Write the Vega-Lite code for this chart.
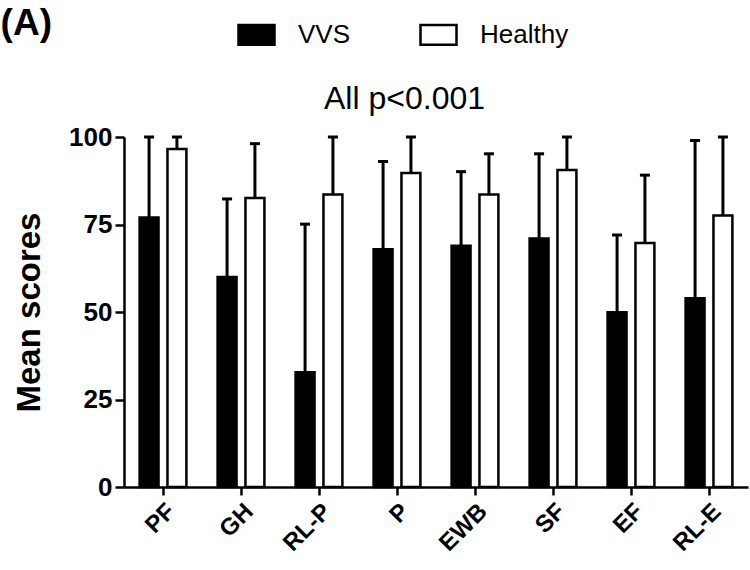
{
  "$schema": "https://vega.github.io/schema/vega-lite/v6.json",
  "width": 624,
  "height": 350,
  "padding": {"left": 0, "top": 5, "right": 2, "bottom": 0},
  "background": "white",
  "title": {"text": "(A)", "anchor": "start", "frame": "bounds", "fontSize": 37, "fontWeight": "bold", "font": "Liberation Sans", "color": "black", "offset": -28, "dx": -13},
  "config": {
    "view": {"stroke": null},
    "font": "Liberation Sans",
    "axis": {"domainColor": "black", "domainWidth": 2.5, "tickColor": "black", "tickWidth": 2.5, "labelColor": "black", "titleColor": "black", "grid": false, "labelFont": "Liberation Sans", "titleFont": "Liberation Sans"}
  },
  "data": {
    "values": [
      {"cat": "PF", "group": "VVS", "mean": 77.0, "upper": 100},
      {"cat": "PF", "group": "Healthy", "mean": 96.6, "upper": 100},
      {"cat": "GH", "group": "VVS", "mean": 60.0, "upper": 82.3},
      {"cat": "GH", "group": "Healthy", "mean": 82.6, "upper": 98.1},
      {"cat": "RL-P", "group": "VVS", "mean": 32.8, "upper": 75.1},
      {"cat": "RL-P", "group": "Healthy", "mean": 83.6, "upper": 100},
      {"cat": "P", "group": "VVS", "mean": 67.9, "upper": 93.0},
      {"cat": "P", "group": "Healthy", "mean": 89.7, "upper": 100},
      {"cat": "EWB", "group": "VVS", "mean": 68.9, "upper": 90.1},
      {"cat": "EWB", "group": "Healthy", "mean": 83.6, "upper": 95.2},
      {"cat": "SF", "group": "VVS", "mean": 71.0, "upper": 95.2},
      {"cat": "SF", "group": "Healthy", "mean": 90.6, "upper": 100},
      {"cat": "EF", "group": "VVS", "mean": 49.9, "upper": 72.0},
      {"cat": "EF", "group": "Healthy", "mean": 69.7, "upper": 89.1},
      {"cat": "RL-E", "group": "VVS", "mean": 53.9, "upper": 99.0},
      {"cat": "RL-E", "group": "Healthy", "mean": 77.6, "upper": 100}
    ]
  },
  "resolve": {"axis": {"x": "independent"}},
  "layer": [
    {
      "mark": {"type": "bar", "stroke": "black", "strokeWidth": 2.5},
      "encoding": {
        "x": {"field": "cat", "type": "nominal", "sort": null, "scale": {"paddingInner": 0.4, "paddingOuter": 0.2},
              "axis": {"title": null, "labelAngle": -45, "labelAlign": "right", "labelBaseline": "top", "labelFontSize": 24, "labelFontWeight": "bold", "tickSize": 8, "labelPadding": 4}},
        "xOffset": {"field": "group", "type": "nominal", "sort": ["VVS", "Healthy"], "scale": {"domain": ["VVS", "Healthy"], "paddingInner": 0.32, "paddingOuter": 0}},
        "y": {"field": "mean", "type": "quantitative", "scale": {"domain": [0, 100], "nice": false},
              "axis": {"values": [0, 25, 50, 75, 100], "title": "Mean scores", "titleFontSize": 33, "titleFontWeight": "bold", "labelFontSize": 26, "labelFontWeight": "bold", "tickSize": 9, "labelPadding": 3, "titlePadding": 22}},
        "fill": {"field": "group", "type": "nominal", "sort": ["VVS", "Healthy"],
                 "scale": {"domain": ["VVS", "Healthy"], "range": ["black", "white"]},
                 "legend": {"orient": "none", "legendX": 113, "legendY": -122, "direction": "horizontal", "title": null,
                            "labelFontSize": 26, "labelFont": "Liberation Sans", "labelColor": "black",
                            "symbolType": "M-1,-0.55H1V0.55H-1Z", "symbolSize": 1296, "symbolStrokeColor": "black", "symbolStrokeWidth": 2.5,
                            "labelOffset": 22, "columnPadding": 64}}
      }
    },
    {
      "mark": {"type": "rule", "strokeWidth": 3, "color": "black"},
      "encoding": {
        "x": {"field": "cat", "type": "nominal", "sort": null,
              "axis": {"orient": "top", "title": "All p<0.001", "labels": false, "ticks": false, "domain": false, "titleFontSize": 32, "titleFontWeight": "normal", "titleX": 280, "titleY": -29, "titleBaseline": "alphabetic", "titleAlign": "center"}},
        "xOffset": {"field": "group", "type": "nominal", "sort": ["VVS", "Healthy"]},
        "y": {"field": "mean", "type": "quantitative",
              "axis": {"values": [0, 25, 50, 75, 100], "title": "Mean scores", "titleFontSize": 33, "titleFontWeight": "bold", "labelFontSize": 26, "labelFontWeight": "bold", "tickSize": 9, "labelPadding": 3, "titlePadding": 22}},
        "y2": {"field": "upper"}
      }
    },
    {
      "mark": {"type": "point", "shape": "M-1,0H1", "size": 100, "filled": false, "stroke": "black", "strokeWidth": 3, "opacity": 1},
      "encoding": {
        "x": {"field": "cat", "type": "nominal", "sort": null, "axis": null},
        "xOffset": {"field": "group", "type": "nominal", "sort": ["VVS", "Healthy"]},
        "y": {"field": "upper", "type": "quantitative",
              "axis": {"values": [0, 25, 50, 75, 100], "title": "Mean scores", "titleFontSize": 33, "titleFontWeight": "bold", "labelFontSize": 26, "labelFontWeight": "bold", "tickSize": 9, "labelPadding": 3, "titlePadding": 22}}
      }
    }
  ]
}
